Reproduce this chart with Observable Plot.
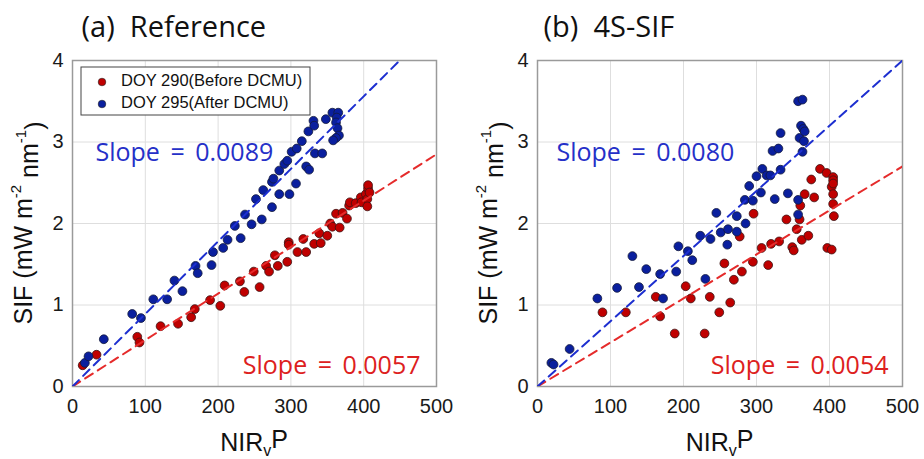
<!DOCTYPE html>
<html><head><meta charset="utf-8">
<script src="https://cdn.jsdelivr.net/npm/d3@7"></script>
<script src="https://cdn.jsdelivr.net/npm/@observablehq/plot@0.6"></script>
<style>
body{margin:0;background:#fff;}
#wrap{display:flex;width:924px;height:459px;}
</style></head><body><div id="wrap"></div>
<script>
// ---- data (NIRvP, SIF) ----
const refBefore = [[14,0.26],[33,0.39],[89,0.61],[92,0.54],[121,0.74],[145,0.77],[163,0.85],[168,0.95],[189,1.06],[203,0.99],[209,1.24],[230,1.29],[236,1.16],[249,1.41],[257,1.22],[266,1.48],[270,1.41],[278,1.61],[282,1.48],[295,1.53],[297,1.77],[297,1.74],[309,1.65],[317,1.81],[321,1.65],[332,1.75],[339,1.88],[341,1.76],[350,1.85],[354,2.00],[357,1.96],[362,2.12],[367,1.95],[371,2.13],[377,2.06],[380,2.22],[381,2.26],[389,2.25],[396,2.32],[397,2.26],[403,2.36],[405,2.30],[405,2.21],[406,2.43],[406,2.47],[408,2.38]];
const refAfter = [[17,0.29],[22,0.37],[43,0.58],[82,0.89],[94,0.84],[111,1.07],[130,1.07],[140,1.30],[151,1.17],[169,1.48],[172,1.39],[191,1.49],[193,1.65],[207,1.70],[213,1.80],[231,1.82],[223,1.97],[237,2.11],[246,1.99],[252,2.30],[260,2.05],[262,2.41],[274,2.51],[274,2.20],[276,2.55],[284,2.65],[284,2.36],[291,2.73],[295,2.77],[298,2.36],[301,2.88],[307,2.49],[308,2.92],[315,3.01],[321,2.70],[325,2.66],[324,3.13],[331,3.26],[332,3.20],[333,2.86],[343,2.86],[348,3.28],[357,3.36],[365,3.36],[363,3.30],[362,3.24],[364,3.17],[366,3.08],[362,3.05],[358,3.02]];
const s4Before = [[89,0.91],[121,0.91],[162,1.10],[168,0.86],[188,0.65],[203,1.23],[210,1.08],[229,0.65],[236,1.10],[249,0.91],[256,1.51],[264,1.03],[269,1.31],[277,1.84],[280,1.41],[295,1.53],[296,2.12],[307,1.70],[316,1.49],[320,1.75],[331,1.78],[341,2.05],[349,1.71],[351,1.67],[355,1.93],[359,2.05],[360,2.22],[362,1.80],[366,2.36],[371,1.85],[375,2.54],[379,2.32],[387,2.67],[396,2.62],[397,1.70],[403,1.68],[403,2.45],[405,2.57],[405,2.53],[405,2.49],[405,2.36],[405,2.24],[406,2.09]];
const s4After = [[19,0.29],[22,0.27],[44,0.46],[82,1.08],[109,1.21],[130,1.60],[139,1.22],[149,1.44],[168,1.38],[172,1.08],[190,1.41],[193,1.72],[206,1.66],[212,1.55],[223,1.85],[230,1.32],[237,1.81],[245,2.13],[251,1.89],[260,1.74],[261,1.93],[273,2.09],[273,1.90],[284,2.29],[285,2.00],[290,2.46],[295,2.28],[300,2.58],[306,2.38],[308,2.67],[314,2.59],[319,2.59],[322,2.89],[325,2.30],[330,2.92],[333,3.11],[333,2.66],[343,2.37],[357,2.29],[357,2.11],[357,3.50],[359,3.05],[361,3.20],[363,3.52],[363,2.88],[364,3.16],[365,3.01],[366,3.13]];
const panelTitles = ["(a)  Reference", "(b)  4S-SIF"];
const slopesBefore = [0.0057, 0.0054];
const slopesAfter = [0.0089, 0.0080];
const seriesNames = ["DOY 290(Before DCMU)", "DOY 295(After DCMU)"];
const xTicks = [0, 100, 200, 300, 400, 500];
const yTicks = [0, 1, 2, 3, 4];

// ---- styles ----
const RED = "#c00000", BLUE = "#0a1f9e";
const RED_LINE = "#e52b2b", BLUE_LINE = "#1d2fd0";
const RED_TXT = "#dd2020", BLUE_TXT = "#2530c8";
const UIFONT = "'Open Sans', 'Noto Sans', sans-serif";
const AXFONT = "'Liberation Sans', Arial, sans-serif";

function fitLine(slope) {
  return xTicks.map(x => ({x, y: slope * x}));
}

function panel(i, before, after, ml, mr, legend) {
  const fmt = v => "Slope = " + v.toFixed(4);
  const plot = Plot.plot({
    width: 462, height: 459,
    marginLeft: ml, marginRight: mr, marginTop: 60, marginBottom: 73,
    x: {domain: [0, 500], ticks: xTicks, tickSize: 0, tickPadding: 12, label: null, tickFormat: d3.format("d")},
    y: {domain: [0, 4], ticks: yTicks, tickSize: 0, tickPadding: 9, label: null, tickFormat: d3.format("d")},
    style: {fontFamily: AXFONT, fontSize: "20px", color: "#1a1a1a", background: "#fff"},
    marks: [
      Plot.gridX(xTicks, {stroke: "#dedede", strokeOpacity: 1, strokeWidth: 1}),
      Plot.gridY(yTicks, {stroke: "#dedede", strokeOpacity: 1, strokeWidth: 1}),
      Plot.frame({stroke: "#9a9a9a", strokeWidth: 1.5}),
      Plot.dot(before, {x: d => d[0], y: d => d[1], r: 4.4, fill: RED, stroke: "#3b1414", strokeWidth: 0.8}),
      Plot.dot(after, {x: d => d[0], y: d => d[1], r: 4.4, fill: BLUE, stroke: "#141a3b", strokeWidth: 0.8}),
      Plot.line(fitLine(slopesBefore[i]), {x: "x", y: "y", stroke: RED_LINE, strokeWidth: 2, strokeDasharray: "9,6", clip: true}),
      Plot.line(fitLine(slopesAfter[i]), {x: "x", y: "y", stroke: BLUE_LINE, strokeWidth: 2, strokeDasharray: "9,6", clip: true}),
      Plot.text([panelTitles[i]], {text: d => d, frameAnchor: "top-left", textAnchor: "start", lineAnchor: "middle", dx: i === 0 ? 9 : 6, dy: -33, fontSize: 29, fontFamily: UIFONT, fill: "#111"}),
      Plot.text([fmt(slopesAfter[i])], {text: d => d, frameAnchor: "top-left", textAnchor: "start", lineAnchor: "middle", dx: i === 0 ? 23 : 19, dy: 92, fontSize: 25, fontFamily: UIFONT, fill: BLUE_TXT}),
      Plot.text([fmt(slopesBefore[i])], {text: d => d, frameAnchor: "bottom-right", textAnchor: "end", lineAnchor: "middle", dx: i === 0 ? -16 : -14, dy: -21, fontSize: 25, fontFamily: UIFONT, fill: RED_TXT})
    ]
  });
  const svg = d3.select(plot.tagName === "svg" ? plot : plot.querySelector("svg"));
  // slope labels: wider word spacing like the reference
  svg.selectAll("text").filter(function() { return /^Slope/.test(this.textContent); })
    .style("word-spacing", "4px");
  // y-axis label
  const yl = svg.append("text")
    .attr("transform", `translate(${ml - 47},${(60 + 386) / 2}) rotate(-90)`)
    .attr("text-anchor", "middle").attr("dominant-baseline", "middle")
    .style("font-family", AXFONT).style("font-size", "25px").attr("fill", "#111");
  yl.append("tspan").text("SIF (mW m");
  yl.append("tspan").attr("dy", "-0.55em").style("font-size", "15px").text("-2");
  yl.append("tspan").attr("dy", "0.55em").text(" nm");
  yl.append("tspan").attr("dy", "-0.55em").style("font-size", "15px").text("-1");
  yl.append("tspan").attr("dy", "0.55em").text(")");
  // x-axis label
  const xl = svg.append("text")
    .attr("x", (ml + 462 - mr) / 2).attr("y", 451)
    .attr("text-anchor", "middle")
    .style("font-family", AXFONT).style("font-size", "25px").attr("fill", "#111");
  xl.append("tspan").text("NIR");
  xl.append("tspan").attr("dy", "0.3em").style("font-size", "16px").text("v");
  xl.append("tspan").attr("dy", "-0.3em").text("P");
  if (legend) {
    const g = svg.append("g");
    g.append("rect").attr("x", 81).attr("y", 67).attr("width", 229).attr("height", 48)
      .attr("fill", "#fff").attr("stroke", "#444").attr("stroke-width", 1);
    [[RED, seriesNames[0], 82], [BLUE, seriesNames[1], 104]].forEach(([c, t, y]) => {
      g.append("circle").attr("cx", 102).attr("cy", y).attr("r", 3.8).attr("fill", c).attr("stroke", "#222").attr("stroke-width", 0.6);
      g.append("text").attr("x", 121).attr("y", y).attr("dominant-baseline", "middle")
        .attr("text-anchor", "start")
        .style("font-family", AXFONT).style("font-size", "16.5px").attr("fill", "#111").text(t);
    });
  }
  return plot;
}

const wrap = document.getElementById("wrap");
wrap.appendChild(panel(0, refBefore, refAfter, 72, 26, true));
wrap.appendChild(panel(1, s4Before, s4After, 75, 22, false));
</script>
</body></html>
